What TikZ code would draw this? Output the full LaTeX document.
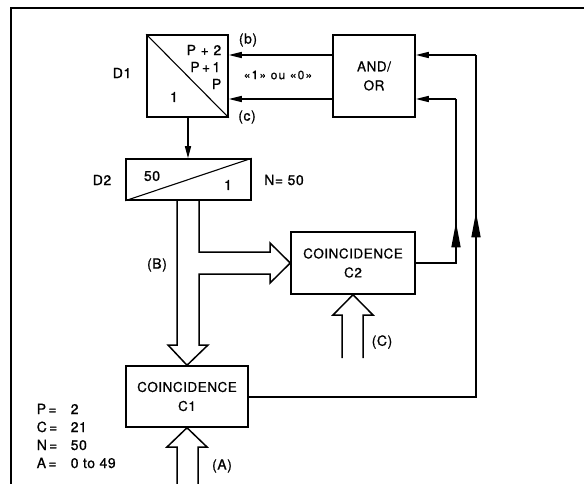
\documentclass[tikz,border=0pt]{standalone}
\usepackage{fontspec}
\setmainfont{TeX Gyre Heros}[LetterSpace=4,FakeBold=0.8]
\usetikzlibrary{arrows.meta,calc,decorations.markings}
\begin{document}
\begin{tikzpicture}[x=1pt,y=-1pt,
  line width=1.5pt, line join=miter,
  blk/.style={draw, inner sep=0pt, align=center, font=\fontsize{13.5}{17}\selectfont},
  lbl/.style={inner sep=0pt, font=\fontsize{14}{17}\selectfont},
  leg/.style={inner sep=0pt, anchor=base west, font=\fontsize{14}{17}\selectfont},
  small/.style={inner sep=0pt, font=\fontsize{12}{16}\selectfont\addfontfeature{LetterSpace=10}},
  tipS/.style={-{Triangle[length=13pt,width=6pt]}},
  midarr/.style={postaction={decorate}, decoration={markings,
     mark=at position #1 with {\arrow{Triangle[length=25pt,width=9pt]}}}}
]
\useasboundingbox (0,0) rectangle (584,484);
% frame (top and left edges)
\draw[line width=1.7pt] (11,484) -- (11,8) -- (584,8);

% blocks
\node[blk, minimum width=81pt, minimum height=82pt] (d1) at (187.5,76) {};
\node[blk, minimum width=125pt, minimum height=41pt] (d2) at (188.5,179.5) {};
\node[blk, minimum width=82pt, minimum height=82pt] (andor) at (374,76) {AND/\\[2pt]OR};
\node[blk, minimum width=124pt, minimum height=62pt] (c2) at (353,263) {COINCIDENCE\\[2pt]C2};
\node[blk, minimum width=122pt, minimum height=61pt] (c1) at (187,396.5) {COINCIDENCE\\[2pt]C1};

% diagonals
\draw[line width=1.1pt] (d1.north west) -- (d1.south east);
\draw[line width=1.1pt] (d2.south west) -- (d2.north east);

% texts in D1
\node[lbl, anchor=east] (p2) at (222,50) {P\,\,+\,\,2};
\node[lbl, anchor=east] (p1) at (221,67) {P\,+\,1};
\node[lbl, anchor=east] (p0) at (222,84) {P};
\node[lbl] (one1) at (174,97) {1};
\node[lbl] (d1l) at (122,73) {D1};
\node[lbl] (bl) at (248,40) {(b)};
\node[lbl] (cl) at (247,117) {(c)};
\node[small] (oul) at (278,75) {«1» ou «0»};

% texts in D2
\node[lbl] (n50) at (152,176) {50};
\node[lbl] (one2) at (228,185) {1};
\node[lbl] (d2l) at (102,180) {D2};
\node[lbl] (nl) at (284,180) {N= 50};

\node[lbl] (bbl) at (157,265) {(B)};
\node[lbl] (ccl) at (382,342) {(C)};
\node[lbl] (aal) at (222,466) {(A)};

% legend
\node[leg] (lp) at (36,414) {P\,=};
\node[leg] (lc) at (36,432) {C\,=};
\node[leg] (ln) at (36,450) {N\,=};
\node[leg] (la) at (36,468) {A\,=};
\node[leg] (vp) at (70,414) {2};
\node[leg] (vc) at (70,432) {21};
\node[leg] (vn) at (70,450) {50};
\node[leg] (va) at (70,468) {0 to 49};

% coordinates
\coordinate (yb) at (0,55);
\coordinate (yc) at (0,99);
\coordinate (xo) at (476,0);
\coordinate (xi) at (456,0);

% AND/OR -> D1
\draw[tipS] (andor.west |- yb) -- (d1.east |- yb);
\draw[tipS] (andor.west |- yc) -- (d1.east |- yc);

% D1 -> D2
\draw[-{Triangle[length=12pt,width=6pt]}] (d1.south -| 188,0) -- (d2.north -| 188,0);

% feedback C1 -> AND/OR
\draw[midarr=412pt] (c1.east |- 0,397) -- (xo |- 0,397) -- (xo |- yb) coordinate (o1);
\draw[tipS] (o1) -- (andor.east |- yb);
% feedback C2 -> AND/OR
\draw[midarr=81pt] (c2.east) -- (xi |- c2.east) -- (xi |- yc) coordinate (o2);
\draw[tipS] (o2) -- (andor.east |- yc);

% bus (B): from D2 into C2 and C1
\draw ($(d2.south)+(-11.5,0)$) -- (177,345) -- (168,345) -- (c1.north) -- (208,345) -- (199,345)
  -- (199,274) -- (270,274) -- (270,283) -- (c2.west) -- (270,243) -- (270,252) -- (199,252)
  -- ($(d2.south)+(10.5,0)$);

% input (A)
\draw (177,484) -- (177,447) -- (167,447) -- (c1.south) -- (207,447) -- (198,447) -- (198,484);
% input (C)
\draw (342,358) -- (342,315) -- (333,315) -- (c2.south) -- (373,315) -- (363,315) -- (363,358);
\end{tikzpicture}
\end{document}
